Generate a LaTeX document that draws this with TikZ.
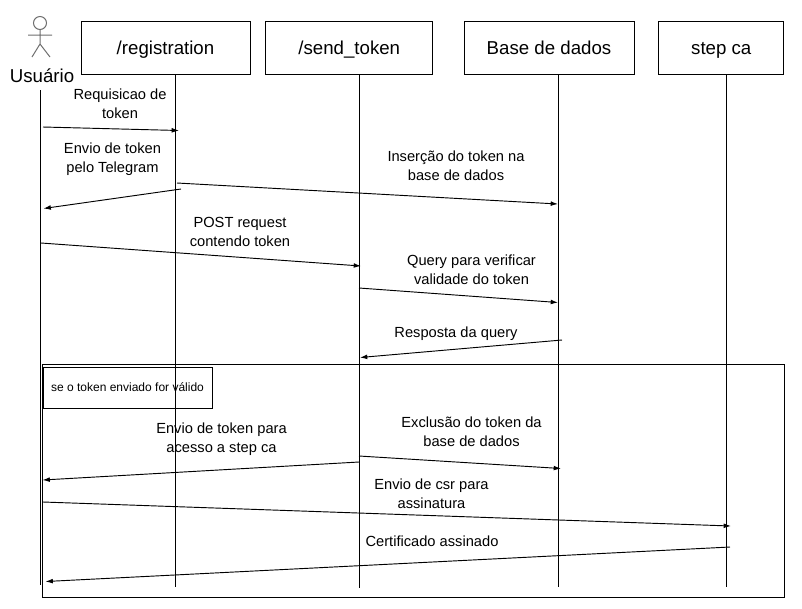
\documentclass[tikz,border=0pt]{standalone}
\usepackage{fontspec}
\setmainfont{Liberation Sans}
\usetikzlibrary{arrows.meta}
\tikzset{every picture/.style={line width=0.75pt}}
\tikzset{
  header/.style={draw,inner sep=0pt,minimum height=39.75pt,text height=13.5pt,text depth=3pt,font=\fontsize{14}{16}\selectfont},
  lbl/.style={inner sep=0.75pt,align=center,font=\fontsize{11}{14.2}\selectfont},
  msg/.style={-{Latex[length=5.5pt,width=3.6pt]},line width=0.7pt},
  lifeline/.style={line width=0.75pt}
}
\begin{document}
\begin{tikzpicture}[x=0.75pt,y=0.75pt,yscale=-1]
\useasboundingbox (0,0) rectangle (802,608);
% Actor
\draw [color={rgb, 255:red, 110; green, 110; blue, 110 }] (40,23) circle [radius=6.5];
\draw [color={rgb, 255:red, 110; green, 110; blue, 110 }] (40,29.5) -- (40,44) (28,35) -- (52,35) (32,57) -- (40,44) -- (50,57);
\node (usuario) [inner sep=0.75pt,font=\fontsize{14}{16}\selectfont] at (42,76) {Usuário};
% Header boxes
\node (registration) [header,minimum width=126.75pt] at (165.5,47.5) {/registration};
\node (sendtoken) [header,minimum width=125.6pt] at (349.25,47.5) {/send\_token};
\node (basedados) [header,minimum width=127.5pt] at (549,47.5) {Base de dados};
\node (stepca) [header,minimum width=93.4pt] at (721.25,47.5) {step ca};
% Lifelines
\coordinate (userTop) at (40.5,90);
\coordinate (userEnd) at (40.5,585);
\coordinate (regEnd) at (175.5,587);
\coordinate (sendEnd) at (359.5,588);
\coordinate (baseEnd) at (558.5,587);
\coordinate (stepEnd) at (726.5,587);
\draw [lifeline] (userTop) -- (userEnd);
\draw [lifeline] (registration.south -| regEnd) -- (regEnd);
\draw [lifeline] (sendtoken.south -| sendEnd) -- (sendEnd);
\draw [lifeline] (basedados.south -| baseEnd) -- (baseEnd);
\draw [lifeline] (stepca.south -| stepEnd) -- (stepEnd);
% Condition frame
\node (frame) [draw,minimum width=556.5pt,minimum height=174.75pt,inner sep=0pt] at (413,480.5) {};
\node (cond) [draw,minimum width=126.75pt,minimum height=30.75pt,inner sep=0pt,font=\fontsize{9}{11}\selectfont] at (127.5,387.5) {se o token enviado for válido};
% Messages
\coordinate (m1a) at (43,127);   \coordinate (m1b) at (179,130.5);
\coordinate (m2a) at (181,189);  \coordinate (m2b) at (43.5,208.5);
\coordinate (m3a) at (177,183);  \coordinate (m3b) at (558,204);
\coordinate (m4a) at (41,243);   \coordinate (m4b) at (361,266);
\coordinate (m5a) at (359,288);  \coordinate (m5b) at (558,302.5);
\coordinate (m6a) at (562,340);  \coordinate (m6b) at (360,357.5);
\coordinate (m7a) at (359,456);  \coordinate (m7b) at (561,468.5);
\coordinate (m8a) at (359,462);  \coordinate (m8b) at (42.5,480);
\coordinate (m9a) at (43,502);   \coordinate (m9b) at (731,526);
\coordinate (m10a) at (730,547); \coordinate (m10b) at (45.5,581.5);
\draw [msg] (m1a) -- (m1b);
\draw [msg] (m2a) -- (m2b);
\draw [msg] (m3a) -- (m3b);
\draw [msg] (m4a) -- (m4b);
\draw [msg] (m5a) -- (m5b);
\draw [msg] (m6a) -- (m6b);
\draw [msg] (m7a) -- (m7b);
\draw [msg] (m8a) -- (m8b);
\draw [msg] (m9a) -- (m9b);
\draw [msg] (m10a) -- (m10b);
% Labels
\node (t1) [lbl] at (120,103.5) {Requisicao de\\token};
\node (t2) [lbl] at (112.5,159) {Envio de token\\pelo Telegram};
\node (t3) [lbl] at (456,166) {Inserção do token na\\base de dados};
\node (t4) [lbl] at (240,232) {POST request\\contendo token};
\node (t5) [lbl] at (471.5,270) {Query para verificar\\validade do token};
\node (t6) [lbl] at (456,333.5) {Resposta da query};
\node (t7) [lbl] at (471.5,432) {Exclusão do token da\\base de dados};
\node (t8) [lbl] at (221.5,439) {Envio de token para\\acesso a step ca};
\node (t9) [lbl] at (431.5,494) {Envio de csr para\\assinatura};
\node (t10) [lbl] at (432,541) {Certificado assinado};
\end{tikzpicture}
\end{document}
